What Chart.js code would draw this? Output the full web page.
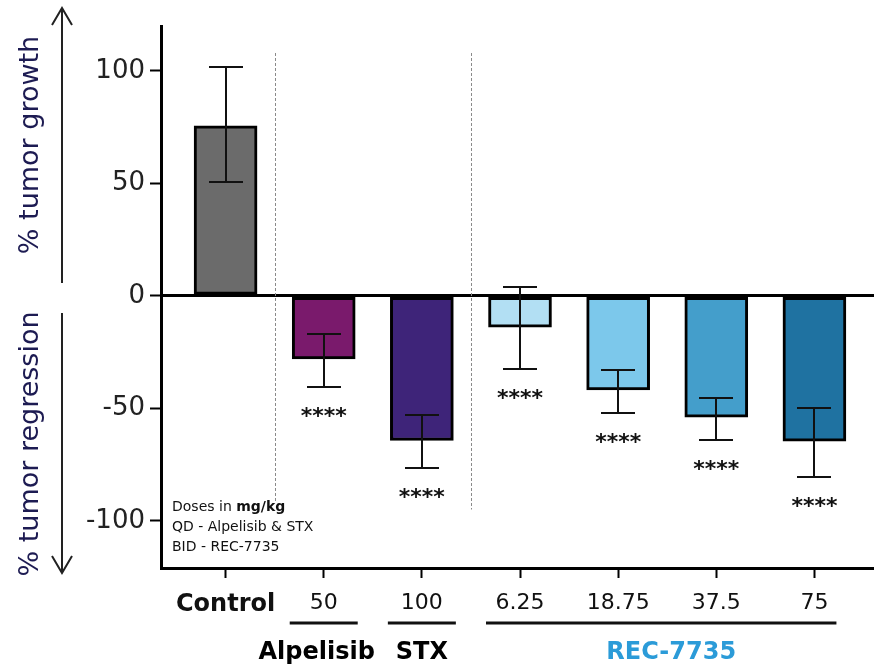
<!DOCTYPE html>
<html>
<head>
<meta charset="utf-8">
<script src="https://cdn.jsdelivr.net/npm/chart.js@4.4.1/dist/chart.umd.min.js"></script>
<style>
  html, body { margin: 0; padding: 0; background: #ffffff; }
  #wrap { width: 874px; height: 670px; position: relative; }
</style>
</head>
<body>
<div id="wrap"><canvas id="c" width="874" height="670"></canvas></div>
<script>
// ---- data ----
const categories = ['Control', '50', '100', '6.25', '18.75', '37.5', '75'];
const meanValues = [75.6, -28, -64.3, -13.9, -41.8, -53.9, -64.6];
const errLower   = [50.8, -40.3, -76.7, -32.4, -52.1, -64.3, -80.6];
const errUpper   = [101.6, -16.9, -52.9, 3.9, -32.9, -45.2, -49.9];
const significance = ['', '****', '****', '****', '****', '****', '****'];
const barColors = ['#6b6b6b', '#7a1a6c', '#3e2479', '#b2dff3', '#7cc8eb', '#449ecb', '#1f72a1'];
const yTickValues = [-100, -50, 0, 50, 100];
const groupLabels = ['Alpelisib', 'STX', 'REC-7735'];
const groupFrom = [1, 2, 3];
const groupTo = [1, 2, 6];
const groupColors = ['#000000', '#000000', '#2b9bd8'];
const noteLines = [['Doses in ', 'mg/kg'], ['QD - Alpelisib & STX', ''], ['BID - REC-7735', '']];
const yTitleUp = '% tumor growth';
const yTitleDown = '% tumor regression';

const FONT = "'DejaVu Sans', Verdana, sans-serif";

const overlay = {
  id: 'overlay',
  afterDatasetsDraw(chart) {
    const ctx = chart.ctx;
    const x = chart.scales.x, y = chart.scales.y;
    ctx.save();
    // dashed separators
    ctx.strokeStyle = '#8a8a8a';
    ctx.lineWidth = 1;
    ctx.setLineDash([3, 2]);
    [[0.5, 108, -92], [2.5, 108, -95]].forEach(([v, t, b]) => {
      const px = Math.round(x.getPixelForValue(v)) + 0.5;
      ctx.beginPath();
      ctx.moveTo(px, y.getPixelForValue(t));
      ctx.lineTo(px, y.getPixelForValue(b));
      ctx.stroke();
    });
    ctx.setLineDash([]);

    // error bars
    ctx.strokeStyle = '#111111';
    ctx.lineWidth = 2;
    categories.forEach((c, i) => {
      const cx = Math.round(x.getPixelForValue(i));
      const yl = Math.round(y.getPixelForValue(errLower[i]));
      const yh = Math.round(y.getPixelForValue(errUpper[i]));
      ctx.beginPath();
      ctx.moveTo(cx, yl); ctx.lineTo(cx, yh);
      ctx.moveTo(cx - 17, yl); ctx.lineTo(cx + 17, yl);
      ctx.moveTo(cx - 17, yh); ctx.lineTo(cx + 17, yh);
      ctx.stroke();
    });

    // significance stars
    ctx.fillStyle = '#111111';
    ctx.font = 'bold 22px ' + FONT;
    ctx.textAlign = 'center';
    ctx.textBaseline = 'alphabetic';
    categories.forEach((c, i) => {
      if (!significance[i]) return;
      const cx = x.getPixelForValue(i);
      const yl = y.getPixelForValue(errLower[i]);
      ctx.fillText(significance[i], cx, yl + 23 + 13);
    });

    // note text
    ctx.textAlign = 'left';
    ctx.textBaseline = 'middle';
    const nx = x.left + 11;
    noteLines.forEach((ln, k) => {
      const ny = 507 + k * 20;
      ctx.font = '14px ' + FONT;
      ctx.fillStyle = '#111111';
      ctx.fillText(ln[0], nx, ny);
      if (ln[1]) {
        const w = ctx.measureText(ln[0]).width;
        ctx.font = 'bold 14px ' + FONT;
        ctx.fillText(ln[1], nx + w, ny);
      }
    });

    // y titles with arrows
    ctx.fillStyle = '#1d1b52';
    ctx.font = '27px ' + FONT;
    ctx.textAlign = 'center';
    ctx.textBaseline = 'middle';
    ctx.save();
    ctx.translate(31, 145);
    ctx.rotate(-Math.PI / 2);
    ctx.fillText(yTitleUp, 0, 0);
    ctx.restore();
    ctx.save();
    ctx.translate(31, 444);
    ctx.rotate(-Math.PI / 2);
    ctx.fillText(yTitleDown, 0, 0);
    ctx.restore();

    ctx.strokeStyle = '#222222';
    ctx.lineWidth = 2;
    ctx.beginPath();
    ctx.moveTo(62, 283); ctx.lineTo(62, 8);
    ctx.moveTo(52, 25); ctx.lineTo(62, 8); ctx.lineTo(72, 25);
    ctx.moveTo(62, 313); ctx.lineTo(62, 573);
    ctx.moveTo(52, 556); ctx.lineTo(62, 573); ctx.lineTo(72, 556);
    ctx.stroke();

    // group underlines and labels
    const textShift = [-7, 0, 4];
    ctx.strokeStyle = '#111111';
    ctx.lineWidth = 3;
    groupLabels.forEach((g, k) => {
      const x0 = x.getPixelForValue(groupFrom[k]) - 34;
      const x1 = x.getPixelForValue(groupTo[k]) + (groupFrom[k] === groupTo[k] ? 34 : 22);
      ctx.beginPath();
      ctx.moveTo(x0, 623); ctx.lineTo(x1, 623);
      ctx.stroke();
      ctx.font = 'bold 24px ' + FONT;
      ctx.fillStyle = groupColors[k];
      ctx.textAlign = 'center';
      ctx.textBaseline = 'middle';
      const cx = (x.getPixelForValue(groupFrom[k]) + x.getPixelForValue(groupTo[k])) / 2 + textShift[k];
      ctx.fillText(g, cx, 653);
    });
    ctx.restore();
  }
};

const chart = new Chart(document.getElementById('c'), {
  type: 'bar',
  data: {
    datasets: [{
      data: categories.map((c, i) => ({ x: i, y: meanValues[i] })),
      backgroundColor: barColors,
      borderColor: '#000000',
      borderWidth: 3,
      borderSkipped: false,
      barThickness: 63
    }]
  },
  plugins: [overlay],
  options: {
    responsive: false,
    animation: false,
    layout: { padding: { top: 26, left: 0, right: 0, bottom: 0 } },
    plugins: { legend: { display: false }, tooltip: { enabled: false } },
    scales: {
      x: {
        type: 'linear',
        offset: false,
        min: -0.658,
        max: 6.607,
        afterBuildTicks: (s) => { s.ticks = categories.map((c, i) => ({ value: i })); },
        afterFit: (s) => { s.height = 102; },
        border: { display: true, color: '#000000', width: 3 },
        grid: { offset: false, drawOnChartArea: false, drawTicks: true, tickLength: 10, tickColor: '#000000', tickWidth: 2 },
        ticks: {
          autoSkip: false,
          maxRotation: 0,
          padding: 12,
          color: '#111111',
          font: (ctx) => (ctx.index === 0 ? { family: FONT, size: 24, weight: 'bold' } : { family: FONT, size: 22, weight: 'normal' }),
          callback: (v) => categories[Math.round(v)] ?? ''
        }
      },
      y: {
        min: -121,
        max: 120,
        afterBuildTicks: (s) => { s.ticks = yTickValues.map(v => ({ value: v })); },
        afterFit: (s) => { s.width = 161; },
        border: { display: true, color: '#000000', width: 3 },
        grid: {
          drawOnChartArea: true,
          color: (ctx) => (ctx.tick && ctx.tick.value === 0 ? '#000000' : 'rgba(0,0,0,0)'),
          lineWidth: (ctx) => (ctx.tick && ctx.tick.value === 0 ? 3 : 1),
          tickLength: 11,
          tickColor: '#000000',
          tickWidth: 2
        },
        ticks: {
          padding: 5,
          color: '#222222',
          font: { family: FONT, size: 26 },
          callback: (v) => String(v)
        }
      }
    }
  }
});
</script>
</body>
</html>
